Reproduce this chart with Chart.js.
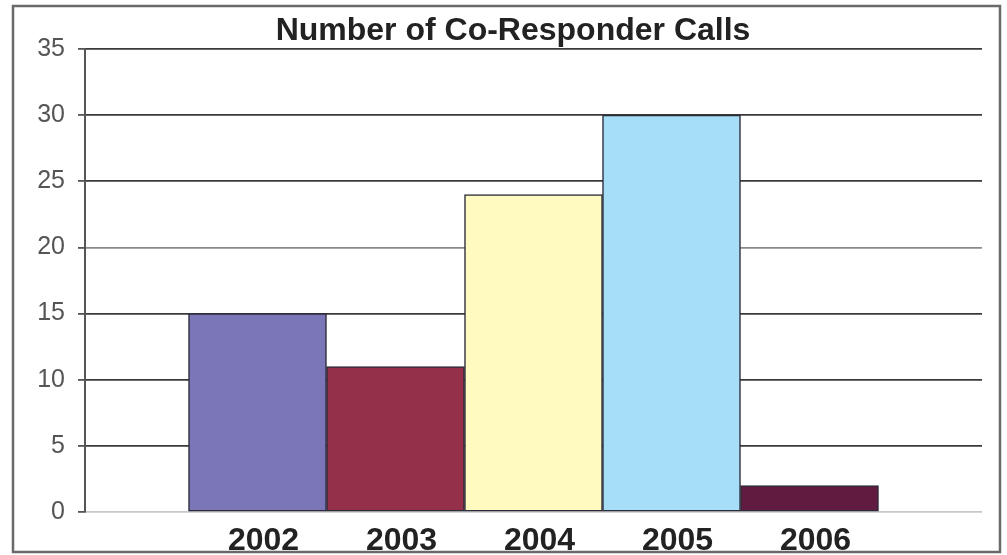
<!DOCTYPE html>
<html>
<head>
<meta charset="utf-8">
<script src="https://cdn.jsdelivr.net/npm/chart.js@4"></script>
<style>
  html, body { margin: 0; padding: 0; background: #fff; }
  #box { width: 1007px; height: 555px; }
</style>
</head>
<body>
<div id="box"><canvas id="grafico" width="1007" height="555"></canvas></div>
<script>
const titulo = "Number of Co-Responder Calls";
const anos = ["2002", "2003", "2004", "2005", "2006"];
const chamadas = [15, 11, 24, 30, 2];
const cores = ["#7B76B8", "#95304A", "#FFFAC0", "#A6DEF7", "#621B40"];
const marcasY = [0, 5, 10, 15, 20, 25, 30, 35];

const fonte = "'Liberation Sans', Arial, sans-serif";

// fundo branco, titulo e moldura em volta de tudo
const moldura = {
    id: "moldura",
    beforeDraw(chart) {
        const ctx = chart.ctx;
        ctx.save();
        ctx.fillStyle = "#fff";
        ctx.fillRect(0, 0, chart.width, chart.height);
        ctx.restore();
    },
    afterDraw(chart) {
        const ctx = chart.ctx;
        ctx.save();
        ctx.fillStyle = "#222";
        ctx.font = "bold 32px " + fonte;
        ctx.textAlign = "center";
        ctx.textBaseline = "alphabetic";
        ctx.fillText(titulo, 513, 40);
        ctx.strokeStyle = "#6a6a6a";
        ctx.lineWidth = 2.5;
        ctx.strokeRect(13, 6, 987, 546);
        ctx.restore();
    }
};

const ctx = document.querySelector("#grafico");

new Chart(ctx, {
    type: "bar",
    data: {
        datasets: [{
            data: chamadas.map((valor, i) => ({ x: i, y: valor })),
            backgroundColor: cores,
            borderColor: "#2b2b3a",
            borderWidth: 1.5,
            borderSkipped: false,
            categoryPercentage: 1,
            barPercentage: 1
        }]
    },
    options: {
        responsive: false,
        animation: false,
        layout: { padding: { left: 0, right: 25, top: 49, bottom: 0 } },
        plugins: {
            legend: { display: false },
            tooltip: { enabled: false }
        },
        scales: {
            x: {
                type: "linear",
                offset: false,
                min: -1.25,
                max: 5.25,
                afterBuildTicks: (escala) => {
                    escala.ticks = anos.map((_, i) => ({ value: i }));
                },
                afterFit: (escala) => { escala.height = 43; },
                grid: { display: false, drawTicks: false },
                border: { display: false },
                ticks: {
                    autoSkip: false,
                    maxRotation: 0,
                    padding: 10,
                    labelOffset: 6,
                    color: "#222",
                    font: { family: fonte, size: 32, weight: "bold" },
                    callback: (valor) => anos[valor] ?? ""
                }
            },
            y: {
                min: 0,
                max: 35,
                afterBuildTicks: (escala) => {
                    escala.ticks = marcasY.map(v => ({ value: v }));
                },
                afterFit: (escala) => { escala.width = 85; },
                grid: {
                    color: (c) => c.tick && c.tick.value === 0 ? "#c8c8c8" : (c.tick && c.tick.value === 20 ? "#8a8a8a" : "#3a3a3a"),
                    lineWidth: 1.8,
                    tickLength: 7,
                    tickColor: "#555"
                },
                border: { display: true, color: "#555", width: 2 },
                ticks: {
                    padding: 13,
                    color: "#555",
                    font: { family: fonte, size: 25 }
                }
            }
        }
    },
    plugins: [moldura]
});
</script>
</body>
</html>
